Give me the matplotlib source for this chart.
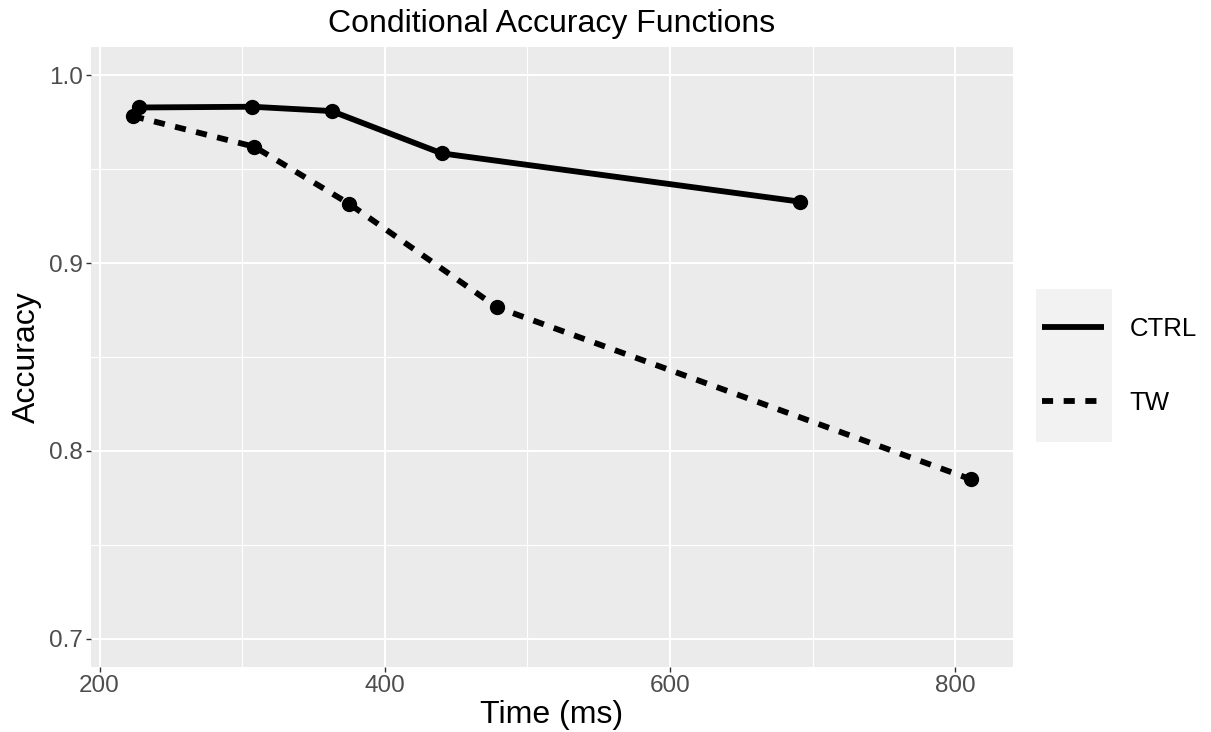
import matplotlib
matplotlib.use("Agg")
import matplotlib.pyplot as plt
from matplotlib.lines import Line2D
from matplotlib.patches import Rectangle

plt.rcParams['font.family'] = ['Liberation Sans', 'DejaVu Sans']
plt.rcParams['lines.scale_dashes'] = False

# data
ctrl_time = [227.5, 307, 362.7, 439.9, 690.9]
ctrl_acc = [0.9828, 0.9832, 0.9809, 0.9584, 0.9327]
tw_time = [223.5, 308.6, 375.1, 478.8, 811.0]
tw_acc = [0.9782, 0.9619, 0.9315, 0.8764, 0.7849]
groups = ["CTRL", "TW"]

xticks = [200, 400, 600, 800]
yticks = [0.7, 0.8, 0.9, 1.0]
xminor = [300, 500, 700]
yminor = [0.75, 0.85, 0.95]

fig = plt.figure(figsize=(12.11, 7.32), dpi=100)
ax = fig.add_axes([0.0751, 0.0888, 0.7614, 0.847])
ax.set_facecolor('#EBEBEB')
for s in ax.spines.values():
    s.set_visible(False)

# grid like ggplot
for v in xminor:
    ax.axvline(v, color='white', lw=0.8, zorder=0)
for v in yminor:
    ax.axhline(v, color='white', lw=0.8, zorder=0)
for v in xticks:
    ax.axvline(v, color='white', lw=1.5, zorder=0)
for v in yticks:
    ax.axhline(v, color='white', lw=1.5, zorder=0)

lw = 4.2
dash = (0, (8.0, 7.6))
ax.plot(ctrl_time, ctrl_acc, color='black', lw=lw, solid_capstyle='butt', zorder=2)
ax.plot(tw_time, tw_acc, color='black', lw=lw, linestyle=dash, dash_capstyle='butt', zorder=2)
ax.plot(ctrl_time, ctrl_acc, 'o', color='black', ms=10, zorder=3)
ax.plot(tw_time, tw_acc, 'o', color='black', ms=10, zorder=3)

ax.set_xlim(194, 840.5)
ax.set_ylim(0.685, 1.015)
ax.set_xticks(xticks)
ax.set_yticks(yticks)
ax.set_yticklabels([f"{v:.1f}" for v in yticks])
ax.tick_params(axis='both', colors='#333333', length=3.5, width=1, labelsize=17.5,
               labelcolor='#4D4D4D', pad=2.5)

ax.set_xlabel("Time (ms)", fontsize=23, labelpad=2)
ax.set_ylabel("Accuracy", fontsize=23, labelpad=5)
ax.set_title("Conditional Accuracy Functions", fontsize=23, pad=11)

# legend with ggplot-like key background
fig.add_artist(Rectangle((1036 / 1211, 1 - 442 / 732), 76 / 1211, 153 / 732,
                         transform=fig.transFigure, facecolor='#F2F2F2',
                         edgecolor='none', zorder=0))
handles = [Line2D([], [], color='black', lw=lw, solid_capstyle='butt'),
           Line2D([], [], color='black', lw=lw, linestyle=dash, dash_capstyle='butt')]
fig.legend(handles, groups, loc='center left', bbox_to_anchor=(1042 / 1211, 0.5),
           frameon=False, fontsize=18.5, handlelength=2.4, handletextpad=1.0,
           labelspacing=1.98, borderaxespad=0, borderpad=0)

fig.savefig("out.png", dpi=100)
